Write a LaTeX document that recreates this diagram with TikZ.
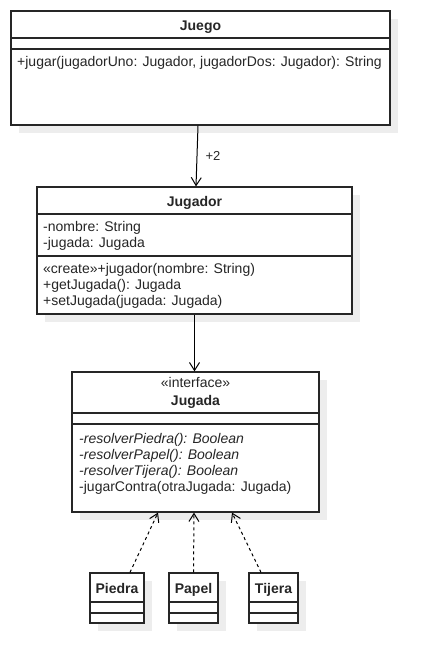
\documentclass[tikz,border=0pt]{standalone}
\usepackage{fontspec}
\setmainfont{Liberation Sans}
\usetikzlibrary{arrows.meta,shadows}

\begin{document}
\begin{tikzpicture}
    [x=1pt, y=-1pt,
    every node/.style = {font=\fontsize{14}{16}\selectfont, text=black!85},
    clase/.style = {draw=black!85, line width=1.2pt, fill=white, inner sep=0pt,
                    drop shadow={shadow xshift=8pt, shadow yshift=-8pt,
                                 fill=black!7, opacity=1}},
    linea/.style = {draw=black!85, line width=1.2pt},
    miembro/.style = {anchor=base west, inner sep=0pt},
    titulo/.style = {anchor=base, inner sep=0pt,
                     font=\fontsize{14}{16}\selectfont\bfseries},
    asoc/.style = {-{Straight Barb[length=8pt,width=10pt]}, line width=1pt},
    realiza/.style = {asoc, dash pattern=on 3pt off 3pt}]
    \useasboundingbox (0,0) rectangle (434,667);
    % Clase Juego
    \node[clase, minimum width=379pt, minimum height=114pt] (juego) at (200.5,68) {};
    \draw[linea] (juego.west |- 0,38) -- (juego.east |- 0,38);
    \draw[linea] (juego.west |- 0,49) -- (juego.east |- 0,49);
    \node[titulo] (juegoT) at (200.5,30) {Juego};
    \node[miembro] (juegoM1) at (17,66) {+jugar(jugadorUno: Jugador, jugadorDos: Jugador): String};
    % Clase Jugador
    \node[clase, minimum width=315pt, minimum height=127pt] (jugador) at (194.5,250.5) {};
    \draw[linea] (jugador.west |- 0,214) -- (jugador.east |- 0,214);
    \draw[linea] (jugador.west |- 0,256) -- (jugador.east |- 0,256);
    \node[titulo] (jugadorT) at (194.5,206) {Jugador};
    \node[miembro] (jugadorA1) at (43,231) {-nombre: String};
    \node[miembro] (jugadorA2) at (43,247) {-jugada: Jugada};
    \node[miembro] (jugadorM1) at (43,273) {«create»+jugador(nombre: String)};
    \node[miembro] (jugadorM2) at (43,289) {+getJugada(): Jugada};
    \node[miembro] (jugadorM3) at (43,305) {+setJugada(jugada: Jugada)};
    % Interfaz Jugada
    \node[clase, minimum width=247pt, minimum height=140pt] (jugada) at (195.5,442) {};
    \draw[linea] (jugada.west |- 0,413) -- (jugada.east |- 0,413);
    \draw[linea] (jugada.west |- 0,424) -- (jugada.east |- 0,424);
    \node[titulo, font=\fontsize{14}{16}\selectfont] (jugadaS) at (195.5,387) {«interface»};
    \node[titulo] (jugadaT) at (195.5,405) {Jugada};
    \node[miembro] (jugadaM1) at (79,443) {\itshape -resolverPiedra(): Boolean};
    \node[miembro] (jugadaM2) at (79,459) {\itshape -resolverPapel(): Boolean};
    \node[miembro] (jugadaM3) at (79,475) {\itshape -resolverTijera(): Boolean};
    \node[miembro] (jugadaM4) at (79,491) {-jugarContra(otraJugada: Jugada)};
    % Piedra
    \node[clase, minimum width=54pt, minimum height=50pt] (piedra) at (117,598) {};
    \draw[linea] (piedra.west |- 0,602) -- (piedra.east |- 0,602);
    \draw[linea] (piedra.west |- 0,613) -- (piedra.east |- 0,613);
    \node[titulo] (piedraT) at (117,593) {Piedra};
    % Papel
    \node[clase, minimum width=49pt, minimum height=50pt] (papel) at (193.5,598) {};
    \draw[linea] (papel.west |- 0,602) -- (papel.east |- 0,602);
    \draw[linea] (papel.west |- 0,613) -- (papel.east |- 0,613);
    \node[titulo] (papelT) at (193.5,593) {Papel};
    % Tijera
    \node[clase, minimum width=49pt, minimum height=50pt] (tijera) at (273.5,598) {};
    \draw[linea] (tijera.west |- 0,602) -- (tijera.east |- 0,602);
    \draw[linea] (tijera.west |- 0,613) -- (tijera.east |- 0,613);
    \node[titulo] (tijeraT) at (273.5,593) {Tijera};
    % Relaciones
    \draw[asoc] ([xshift=-2.5pt]juego.south) -- ([xshift=1.5pt]jugador.north)
        node[midway, right=8pt, inner sep=0pt, font=\fontsize{13}{15}\selectfont] (mult) {+2};
    \draw[asoc] (jugador.south) -- (jugador.south |- jugada.north);
    \draw[realiza] ([xshift=13pt]piedra.north) -- ([xshift=-37.5pt]jugada.south);
    \draw[realiza] (papel.north) -- ([xshift=-1.5pt]jugada.south);
    \draw[realiza] ([xshift=-12.5pt]tijera.north) -- ([xshift=36.5pt]jugada.south);
\end{tikzpicture}
\end{document}
